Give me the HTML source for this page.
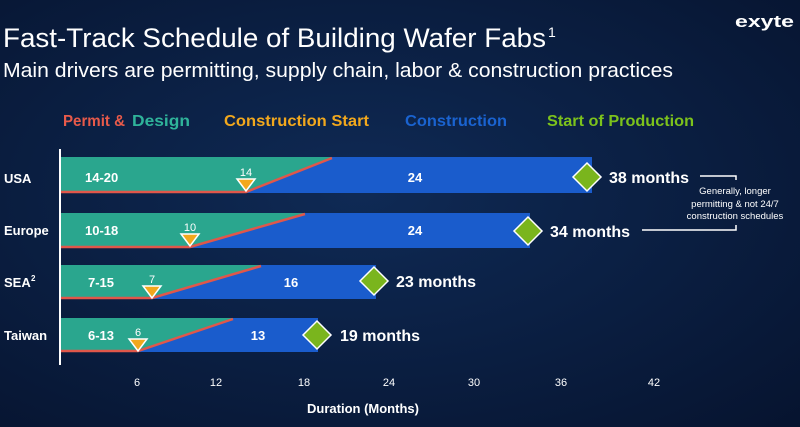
<!DOCTYPE html>
<html><head><style>
html,body{margin:0;padding:0;background:#071634;}
svg{display:block;font-family:"Liberation Sans",Arial,sans-serif;}
</style></head><body>
<svg width="800" height="427" viewBox="0 0 800 427">
<defs>
<radialGradient id="bg" cx="0.45" cy="0.45" r="0.8">
<stop offset="0" stop-color="#0f2a55"/><stop offset="1" stop-color="#06132e"/>
</radialGradient>
</defs>
<rect width="800" height="427" fill="url(#bg)"/>
<text x="735" y="27" fill="#fff" font-size="17" font-weight="bold" textLength="59" lengthAdjust="spacingAndGlyphs">exyte</text>
<text x="3" y="47" fill="#fff" font-size="27" textLength="543" lengthAdjust="spacingAndGlyphs">Fast-Track Schedule of Building Wafer Fabs</text>
<text x="548" y="37" fill="#fff" font-size="14">1</text>
<text x="3" y="77" fill="#fff" font-size="20" textLength="670" lengthAdjust="spacingAndGlyphs">Main drivers are permitting, supply chain, labor &amp; construction practices</text>
<g font-size="16" font-weight="bold">
<text x="63" y="126" fill="#e85a4a" textLength="62" lengthAdjust="spacingAndGlyphs">Permit &amp;</text>
<text x="132" y="126" fill="#2fb39a" textLength="58" lengthAdjust="spacingAndGlyphs">Design</text>
<text x="224" y="126" fill="#f2a81d" textLength="145" lengthAdjust="spacingAndGlyphs">Construction Start</text>
<text x="405" y="126" fill="#1a63d0" textLength="102" lengthAdjust="spacingAndGlyphs">Construction</text>
<text x="547" y="126" fill="#7cc21c" textLength="147" lengthAdjust="spacingAndGlyphs">Start of Production</text>
</g>
<line x1="60" y1="149" x2="60" y2="365" stroke="#fff" stroke-width="2"/>
<g font-size="13" font-weight="bold" fill="#fff">
<text x="4" y="183">USA</text>
<text x="4" y="235">Europe</text>
<text x="4" y="287">SEA</text><text x="31" y="281" font-size="8">2</text>
<text x="4" y="340">Taiwan</text>
</g>
<rect x="61" y="157" width="531" height="36" fill="#1a5ccc"/>
<polygon points="61,157 332,157 246,193 61,193" fill="#2aa68e"/>
<polyline points="61,192 246,192 332,158" fill="none" stroke="#e0574a" stroke-width="2.5"/>
<rect x="61" y="213" width="469" height="35" fill="#1a5ccc"/>
<polygon points="61,213 305,213 190,248 61,248" fill="#2aa68e"/>
<polyline points="61,247 190,247 305,214" fill="none" stroke="#e0574a" stroke-width="2.5"/>
<rect x="61" y="265" width="315" height="34" fill="#1a5ccc"/>
<polygon points="61,265 261,265 152,299 61,299" fill="#2aa68e"/>
<polyline points="61,298 152,298 261,266" fill="none" stroke="#e0574a" stroke-width="2.5"/>
<rect x="61" y="318" width="257" height="34" fill="#1a5ccc"/>
<polygon points="61,318 233,318 138,352 61,352" fill="#2aa68e"/>
<polyline points="61,351 138,351 233,319" fill="none" stroke="#e0574a" stroke-width="2.5"/>
<g fill="#f2a81d" stroke="#fff" stroke-width="1.5">
<polygon points="237,179 255,179 246,191"/>
<polygon points="181,234 199,234 190,246"/>
<polygon points="143,286 161,286 152,298"/>
<polygon points="129,339 147,339 138,351"/>
</g>
<g fill="#fff" font-size="11">
<text x="246" y="176" text-anchor="middle">14</text>
<text x="190" y="231" text-anchor="middle">10</text>
<text x="152" y="283" text-anchor="middle">7</text>
<text x="138" y="336" text-anchor="middle">6</text>
</g>
<g fill="#fff" font-size="13" font-weight="bold">
<text x="85" y="182">14-20</text>
<text x="85" y="235">10-18</text>
<text x="88" y="287">7-15</text>
<text x="88" y="340">6-13</text>
<text x="415" y="182" text-anchor="middle">24</text>
<text x="415" y="235" text-anchor="middle">24</text>
<text x="291" y="287" text-anchor="middle">16</text>
<text x="258" y="340" text-anchor="middle">13</text>
</g>
<g fill="#7ab51d" stroke="#fff" stroke-width="1.5">
<polygon points="587,163 601,177 587,191 573,177"/>
<polygon points="528,217 542,231 528,245 514,231"/>
<polygon points="374,267 388,281 374,295 360,281"/>
<polygon points="317,321 331,335 317,349 303,335"/>
</g>
<g fill="#fff" font-size="16" font-weight="bold">
<text x="609" y="183">38 months</text>
<text x="550" y="237">34 months</text>
<text x="396" y="287">23 months</text>
<text x="340" y="341">19 months</text>
</g>
<polyline points="700,176 736,176 736,180" fill="none" stroke="#fff" stroke-width="1.5"/>
<polyline points="642,230 736,230 736,225" fill="none" stroke="#fff" stroke-width="1.5"/>
<g fill="#fff" font-size="9.5" text-anchor="middle">
<text x="735" y="194">Generally, longer</text>
<text x="735" y="207">permitting &amp; not 24/7</text>
<text x="735" y="219">construction schedules</text>
</g>
<g fill="#fff" font-size="11" text-anchor="middle">
<text x="137" y="386">6</text>
<text x="216" y="386">12</text>
<text x="304" y="386">18</text>
<text x="389" y="386">24</text>
<text x="474" y="386">30</text>
<text x="561" y="386">36</text>
<text x="654" y="386">42</text>
</g>
<text x="363" y="413" fill="#fff" font-size="13" font-weight="bold" text-anchor="middle">Duration (Months)</text>
</svg>
</body></html>
